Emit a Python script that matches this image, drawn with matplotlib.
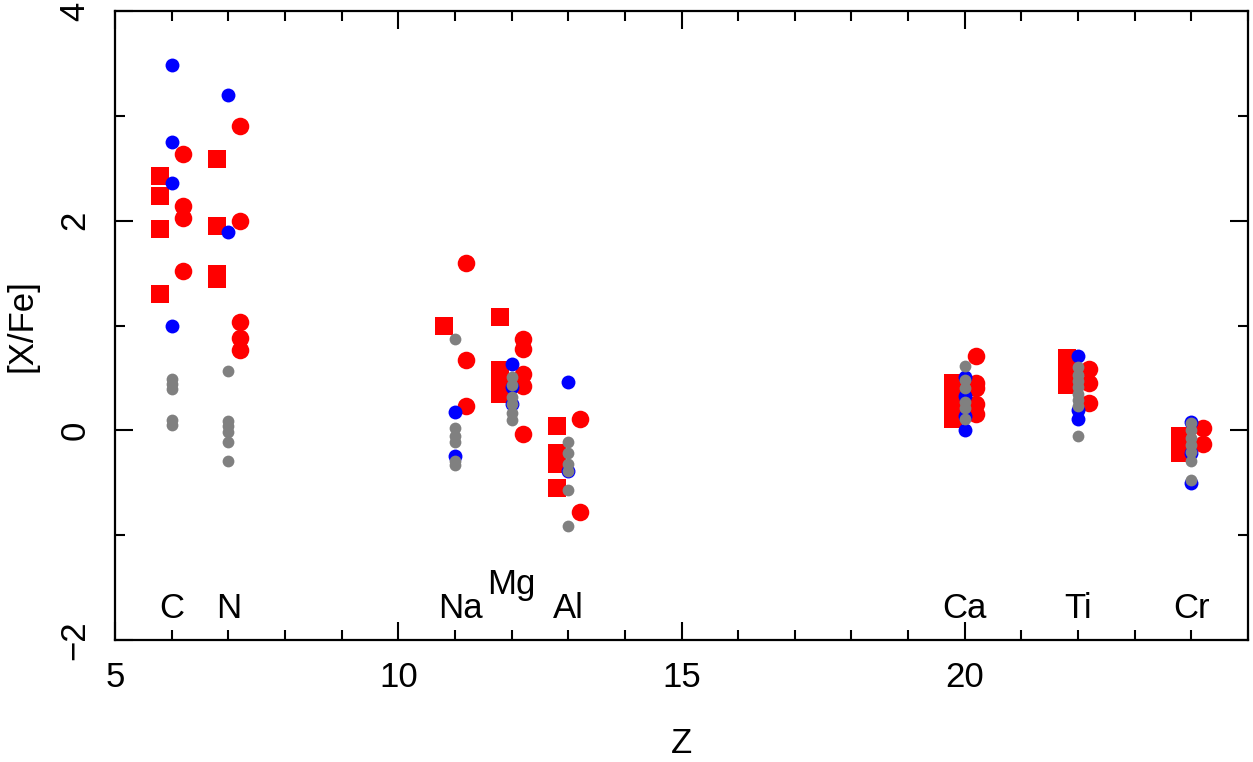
import matplotlib

matplotlib.use("Agg")
import matplotlib.pyplot as plt
from matplotlib.ticker import MultipleLocator

plt.rcParams["font.family"] = ["Liberation Sans Narrow", "Liberation Sans", "DejaVu Sans"]

# --- data (Z, [X/Fe]) ---
# red squares (drawn slightly left of each Z)
sq_z = [5.8, 5.8, 5.8, 5.8,
        6.8, 6.8, 6.8, 6.8,
        10.8,
        11.8, 11.8, 11.8, 11.8, 11.8,
        12.8, 12.8, 12.8, 12.8,
        19.8, 19.8, 19.8, 19.8, 19.8,
        21.8, 21.8, 21.8, 21.8,
        23.8, 23.8, 23.8]
sq_y = [2.43, 2.24, 1.92, 1.30,
        2.59, 1.95, 1.49, 1.44,
        1.00,
        1.08, 0.58, 0.50, 0.42, 0.35,
        0.04, -0.22, -0.32, -0.55,
        0.45, 0.36, 0.27, 0.18, 0.11,
        0.69, 0.60, 0.50, 0.43,
        -0.05, -0.14, -0.22]

# red circles (drawn slightly right of each Z)
rc_z = [6.2, 6.2, 6.2, 6.2,
        7.2, 7.2, 7.2, 7.2, 7.2,
        11.2, 11.2, 11.2,
        12.2, 12.2, 12.2, 12.2, 12.2,
        13.2, 13.2,
        20.2, 20.2, 20.2, 20.2, 20.2,
        22.2, 22.2, 22.2,
        24.2, 24.2]
rc_y = [2.64, 2.14, 2.03, 1.52,
        2.90, 2.00, 1.03, 0.88, 0.77,
        1.60, 0.67, 0.23,
        0.87, 0.78, 0.54, 0.42, -0.03,
        0.11, -0.78,
        0.71, 0.45, 0.40, 0.25, 0.16,
        0.59, 0.45, 0.26,
        0.02, -0.13]

# blue circles
bl_z = [6, 6, 6, 6,
        7, 7,
        11, 11,
        12, 12, 12,
        13, 13,
        20, 20, 20, 20,
        22, 22, 22,
        24, 24, 24]
bl_y = [3.48, 2.75, 2.36, 1.00,
        3.20, 1.89,
        0.18, -0.24,
        0.63, 0.41, 0.25,
        0.46, -0.39,
        0.51, 0.33, 0.14, 0.00,
        0.71, 0.19, 0.11,
        0.08, -0.22, -0.50]

# grey circles
gr_z = [6, 6, 6, 6, 6,
        7, 7, 7, 7, 7, 7,
        11, 11, 11, 11, 11, 11,
        12, 12, 12, 12, 12, 12,
        13, 13, 13, 13, 13, 13,
        20, 20, 20, 20, 20, 20,
        22, 22, 22, 22, 22, 22, 22, 22,
        24, 24, 24, 24, 24, 24, 24]
gr_y = [0.49, 0.44, 0.39, 0.10, 0.05,
        0.57, 0.09, 0.04, -0.02, -0.11, -0.29,
        0.87, 0.02, -0.05, -0.11, -0.29, -0.33,
        0.51, 0.43, 0.32, 0.25, 0.17, 0.10,
        -0.11, -0.22, -0.32, -0.39, -0.57, -0.91,
        0.61, 0.48, 0.40, 0.27, 0.21, 0.11,
        0.60, 0.53, 0.47, 0.41, 0.35, 0.29, 0.23, -0.05,
        0.07, 0.00, -0.07, -0.14, -0.21, -0.29, -0.47]

# element labels
el_names = ["C", "N", "Na", "Mg", "Al", "Ca", "Ti", "Cr"]
el_z = [6, 7, 11.1, 12, 13, 20, 22, 24]
el_y = [-1.7, -1.7, -1.7, -1.47, -1.7, -1.7, -1.7, -1.7]

fig = plt.figure(figsize=(12.53, 7.62), dpi=100)
ax = fig.add_axes([0.0918, 0.160, 0.9042, 0.8256])

ax.scatter(sq_z, sq_y, marker="s", s=150, color="#ff0000", lw=0, zorder=2)
ax.scatter(rc_z, rc_y, marker="o", s=160, color="#ff0000", lw=0, zorder=3)
ax.scatter(bl_z, bl_y, marker="o", s=100, color="#0000ff", lw=0, zorder=4)
ax.scatter(gr_z, gr_y, marker="o", s=72, color="#808080", lw=0, zorder=5)

for name, z, y in zip(el_names, el_z, el_y):
    ax.text(z, y, name, ha="center", va="center", fontsize=25)

ax.set_xlim(5, 25)
ax.set_ylim(-2, 4)
ax.xaxis.set_major_locator(MultipleLocator(5))
ax.xaxis.set_minor_locator(MultipleLocator(1))
ax.yaxis.set_major_locator(MultipleLocator(2))
ax.yaxis.set_minor_locator(MultipleLocator(1))
ax.set_xticks([5, 10, 15, 20])
ax.tick_params(which="both", direction="in", top=True, right=True, width=1.5,
               labelsize=25)
ax.tick_params(which="major", length=13)
ax.tick_params(which="minor", length=7)
ax.tick_params(axis="x", pad=15)
ax.tick_params(axis="y", pad=17)
for lab in ax.get_yticklabels():
    lab.set_rotation(90)
    lab.set_va("center")
for sp in ax.spines.values():
    sp.set_linewidth(1.6)

ax.set_xlabel("Z", fontsize=25, labelpad=24)
ax.set_ylabel("[X/Fe]", fontsize=25, labelpad=14)

fig.savefig("out.png", dpi=100)
